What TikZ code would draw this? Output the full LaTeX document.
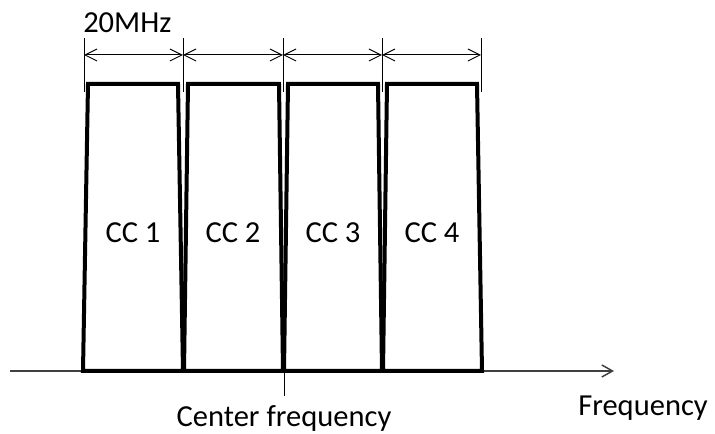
\documentclass[tikz,border=0pt]{standalone}
\usepackage{fontspec}
\setmainfont{Carlito}
\usepackage{tikz}
\usetikzlibrary{arrows.meta}

\begin{document}
\begin{tikzpicture}[
  x=0.75pt, y=-0.75pt,
  lbl/.style={inner sep=0pt, font=\fontsize{22.9}{27}\selectfont},
  carrier/.style={line width=3pt, line join=miter},
  dim/.style={{Straight Barb[length=9pt,width=9pt]}-{Straight Barb[length=9pt,width=9pt]}, line width=0.75pt},
  tick/.style={line width=0.75pt},
  axis/.style={-{Straight Barb[length=8pt,width=9pt]}, line width=1.1pt, black!75}
]
\useasboundingbox (0,0) rectangle (715,434);

% frequency axis
\coordinate (fstart) at (10,371);
\coordinate (fend) at (614,371);
\draw[axis] (fstart) -- (fend);
\draw[tick] (284,371) -- (284,396);

% component carriers
\draw[carrier] (83,371) -- (88,84) -- (178,84) -- (183,371) -- cycle;
\draw[carrier] (184,371) -- (188,84) -- (279,84) -- (283,371) -- cycle;
\draw[carrier] (284,371) -- (288,84) -- (378,84) -- (382,371) -- cycle;
\draw[carrier] (383,371) -- (387,84) -- (477,84) -- (482,371) -- cycle;

\node[lbl, anchor=base] (cc1) at (133,243) {CC 1};
\node[lbl, anchor=base] (cc2) at (233,243) {CC 2};
\node[lbl, anchor=base] (cc3) at (333,243) {CC 3};
\node[lbl, anchor=base] (cc4) at (432,243) {CC 4};

% bandwidth marks
\draw[tick] (84,38) -- (84,92);
\draw[tick] (183,38) -- (183,92);
\draw[tick] (283,38) -- (283,92);
\draw[tick] (382,38) -- (382,92);
\draw[tick] (481,38) -- (481,92);
\coordinate (b0) at (84,55);
\coordinate (b1) at (183,55);
\coordinate (b2) at (283,55);
\coordinate (b3) at (382,55);
\coordinate (b4) at (481,55);
\draw[dim] (b0) -- (b1);
\draw[dim] (b1) -- (b2);
\draw[dim] (b2) -- (b3);
\draw[dim] (b3) -- (b4);

\node[lbl, anchor=base west] (bw) at (83,33) {20MHz};
\node[lbl, anchor=base] (center) at (284,427) {Center frequency};
\node[lbl, anchor=base west] (freq) at (578,416) {Frequency};
\end{tikzpicture}
\end{document}
